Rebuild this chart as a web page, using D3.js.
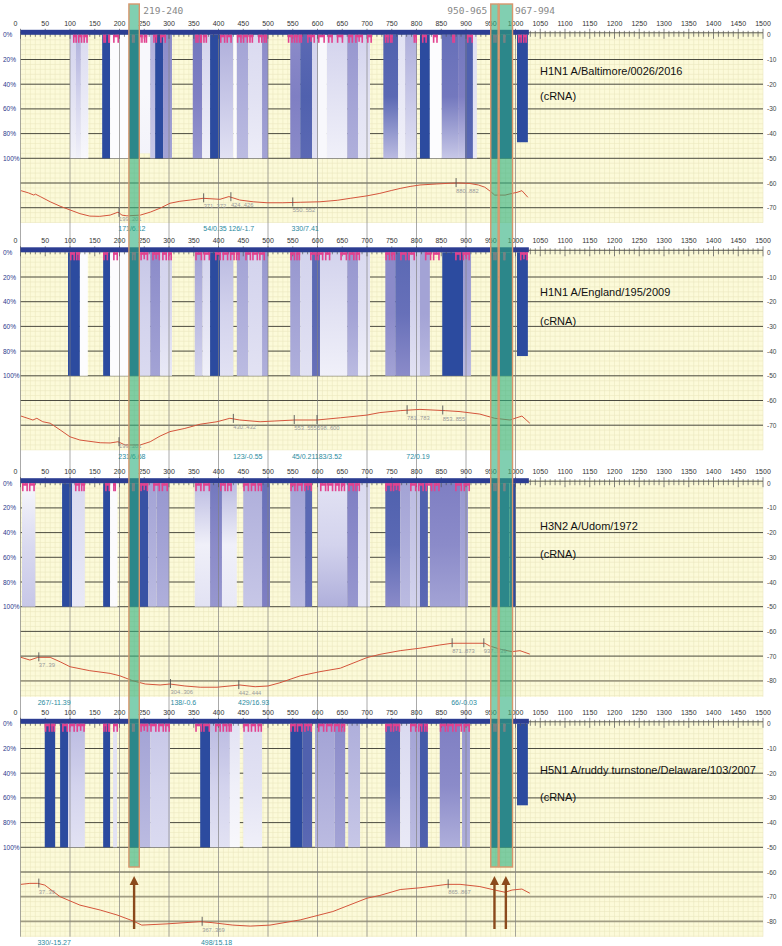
<!DOCTYPE html>
<html><head><meta charset="utf-8">
<script src="https://cdn.jsdelivr.net/npm/d3@7"></script>
<style>body{margin:0;background:#fff}svg{display:block}</style>
</head><body><svg id="c" width="782" height="946"></svg>
<script>
// ---------------- DATA ----------------
const axisTickLabels = [0,50,100,150,200,250,300,350,400,450,500,550,600,650,700,750,800,850,900,950,1000,1050,1100,1150,1200,1250,1300,1350,1400,1450,1500];
const pctValues = [0,20,40,60,80,100];
const pctLabels = ["0%","20%","40%","60%","80%","100%"];
const dgTicksP1 = [0,-10,-20,-30,-40,-50,-60,-70];
const dgTicksP2 = [0,-10,-20,-30,-40,-50,-60,-70];
const dgTicksP3 = [0,-10,-20,-30,-40,-50,-60,-70,-80];
const dgTicksP4 = [0,-10,-20,-30,-40,-50,-60,-70,-80];
const strainNames = ["H1N1 A/Baltimore/0026/2016","H1N1 A/England/195/2009","H3N2 A/Udom/1972","H5N1 A/ruddy turnstone/Delaware/103/2007"];
const strandLabel = "(cRNA)";
const highlightRanges = [[219,240],[950,965],[967,994]];
const highlightLabels = ["219-240","950-965","967-994"];
const arrowPositions = [229.5,957.5,980.5];
const seqLength = 1027;

// bars: [start, end, levelTop, levelMid, levelBottom, endPct]
const bars1 = [[100,112,.3,.2,.08,100],[112,122,.45,.3,.1,100],[122,137,.25,.15,.05,100],[165,181,1,1,1,100],[181,219,.02,.02,.02,100],[219,240,1,1,1,100],[240,262,.05,.05,.08,96],[262,272,.45,.4,.35,100],[272,288,1,1,1,100],[288,306,.6,.55,.5,100],[348,367,.7,.65,.55,100],[367,383,.3,.2,.1,100],[383,403,1,1,1,100],[403,430,.45,.35,.2,100],[430,437,.03,.03,.03,100],[437,460,.5,.45,.4,100],[460,488,.25,.2,.12,100],[488,500,.6,.55,.5,100],[545,565,.6,.65,.6,100],[565,589,.8,.85,.8,100],[589,601,.3,.25,.2,100],[601,619,.05,.05,.05,100],[619,660,.3,.2,.1,100],[660,682,.55,.5,.45,100],[682,706,.3,.2,.15,100],[733,763,.85,.8,.4,100],[763,777,.2,.15,.1,100],[777,801,.45,.35,.2,100],[807,827,1,1,1,100],[827,851,.02,.02,.02,100],[851,884,.75,.7,.35,100],[884,898,.7,.65,.35,100],[898,914,.85,.85,.8,100],[914,922,.2,.2,.15,100],[950,965,1,1,1,100],[967,994,1,1,1,100],[1003,1025,1,1,1,87]];
const bars2 = [[96,120,1,1,1,100],[120,136,.02,.02,.02,100],[167,181,1,1,1,100],[181,219,.02,.02,.02,100],[219,240,1,1,1,100],[240,262,.35,.3,.25,100],[262,282,.6,.55,.5,100],[282,306,.3,.25,.15,100],[352,368,.5,.4,.3,100],[368,383,.3,.2,.1,100],[383,403,1,1,1,100],[403,430,.4,.3,.2,100],[437,460,.5,.45,.4,100],[460,488,.3,.25,.2,100],[488,500,.55,.5,.45,100],[545,565,.55,.5,.45,100],[565,589,.3,.25,.2,100],[589,605,.8,.8,.75,100],[605,660,.3,.2,.1,100],[660,682,.55,.5,.4,100],[682,706,.25,.2,.1,100],[737,757,.6,.6,.5,100],[757,787,.8,.75,.6,100],[787,807,.35,.3,.2,100],[807,827,.5,.5,.4,100],[852,894,1,1,1,100],[894,910,.55,.5,.4,100],[950,965,1,1,1,100],[967,994,1,1,1,100],[1003,1025,1,1,1,84]];
const bars3 = [[3,30,.05,.25,.35,100],[84,104,1,1,1,100],[104,130,.25,.2,.15,100],[167,181,1,1,1,100],[181,196,.03,.03,.03,100],[219,240,1,1,1,100],[240,258,.95,.95,.95,100],[258,275,.5,.45,.4,100],[275,300,.55,.5,.45,100],[352,383,.4,.1,.2,100],[383,407,.7,.6,.55,100],[407,437,.4,.1,.15,100],[450,488,.45,.4,.35,100],[488,504,.75,.7,.65,100],[545,575,.5,.45,.4,100],[575,589,.8,.8,.75,100],[601,660,.2,.3,.45,100],[660,682,.65,.6,.55,100],[682,706,.25,.2,.15,100],[737,767,.85,.8,.6,100],[767,787,.5,.45,.4,100],[787,807,.4,.35,.3,100],[807,823,.85,.85,.8,100],[827,888,.65,.6,.5,100],[888,904,.55,.5,.45,100],[950,965,1,1,1,100],[967,988,1,1,1,100],[989,1001,1,1,1,100]];
const bars4 = [[49,70,1,1,1,100],[80,96,1,1,1,100],[96,130,.4,.3,.2,100],[167,181,1,1,1,100],[187,195,.2,.2,.2,100],[219,240,1,1,1,100],[240,262,.5,.45,.4,100],[262,302,.35,.3,.25,100],[363,383,1,1,1,100],[383,423,.4,.3,.2,100],[423,443,.2,.1,.05,100],[450,488,.25,.2,.1,100],[545,570,1,1,1,100],[570,589,.85,.85,.8,100],[595,635,.5,.45,.4,100],[635,656,.6,.55,.5,100],[662,686,.45,.4,.35,100],[737,767,.85,.8,.6,100],[767,787,.25,.2,.15,100],[787,807,.5,.45,.4,100],[807,823,.9,.9,.85,100],[847,888,.65,.6,.45,100],[892,908,.55,.5,.45,100],[950,965,1,1,1,100],[967,994,1,1,1,100],[1003,1025,1,1,1,66]];

// paired positions (pink marks): [start, end]
const pairs1 = [[106,114],[116,125],[127,136],[167,173],[177,181],[187,199],[225,231],[239,247],[249,256],[268,276],[282,294],[353,360],[362,367],[369,377],[403,414],[416,427],[437,447],[449,460],[462,470],[480,489],[491,498],[540,550],[552,560],[562,569],[579,595],[601,615],[621,631],[639,652],[662,672],[676,692],[700,710],[736,744],[746,752],[794,801],[811,821],[833,843],[872,878],[902,914],[955,962],[975,980],[1005,1013],[1015,1023]];
const pairs2 = [[100,110],[112,120],[167,177],[187,197],[225,233],[242,258],[266,282],[286,296],[298,306],[353,367],[370,383],[393,405],[408,420],[423,433],[435,443],[454,466],[468,480],[482,494],[545,555],[557,565],[585,598],[600,612],[615,626],[646,660],[663,675],[677,686],[737,747],[749,757],[767,780],[783,797],[817,830],[833,847],[878,890],[893,908],[955,962],[975,980],[1009,1025]];
const pairs3 = [[3,15],[17,29],[110,120],[122,130],[171,181],[187,193],[225,231],[242,258],[268,282],[285,298],[353,366],[369,383],[403,415],[417,427],[450,462],[465,476],[479,488],[545,556],[558,570],[573,589],[605,618],[620,632],[635,645],[647,656],[662,674],[676,686],[737,750],[752,767],[787,800],[803,815],[818,832],[835,847],[878,892],[895,908],[955,962],[975,980]];
const pairs4 = [[49,60],[62,70],[84,96],[98,110],[113,130],[167,175],[177,181],[187,197],[225,231],[242,258],[262,275],[278,290],[292,302],[353,367],[369,383],[393,405],[408,418],[420,427],[450,462],[465,476],[479,488],[545,556],[558,570],[573,589],[601,614],[617,630],[633,645],[647,656],[737,750],[752,767],[787,800],[803,812],[815,823],[847,860],[862,875],[878,892],[895,908],[955,962],[975,980]];

// free-energy profile: [position, dG]
const dg1 = [[1,-63.1],[16,-64.0],[27,-64.9],[30,-64.5],[40,-65.5],[60,-67.6],[80,-69.4],[100,-70.9],[120,-72.4],[140,-73.4],[160,-73.5],[181,-73.0],[197,-71.8],[205,-73.0],[215,-73.3],[242,-73.0],[262,-71.8],[282,-70.2],[302,-68.2],[322,-67.4],[343,-66.9],[369,-66.2],[403,-66.6],[421,-65.5],[443,-66.9],[470,-67.6],[498,-68.0],[530,-68.0],[565,-67.8],[605,-67.6],[640,-67.0],[666,-66.2],[700,-65.2],[726,-64.2],[750,-63.0],[767,-62.2],[787,-61.4],[807,-60.8],[840,-60.4],[868,-60.1],[885,-60.0],[908,-60.2],[925,-60.8],[938,-61.7],[950,-63.5],[958,-64.9],[979,-64.9],[993,-64.2],[1003,-63.8],[1013,-63.1],[1025,-65.8]];
const dg2 = [[1,-66.3],[25,-67.9],[33,-67.2],[45,-68.6],[60,-69.2],[80,-71.9],[100,-74.7],[120,-76.0],[161,-77.1],[181,-77.2],[197,-76.7],[211,-78.0],[242,-78.0],[262,-76.7],[282,-74.4],[302,-72.6],[332,-71.3],[363,-69.6],[397,-68.6],[423,-67.2],[443,-67.9],[484,-68.6],[514,-68.3],[554,-67.9],[599,-67.9],[646,-67.0],[700,-65.9],[726,-64.9],[767,-64.1],[807,-63.6],[858,-64.1],[888,-64.5],[928,-65.5],[958,-67.2],[989,-67.9],[999,-67.2],[1013,-66.3],[1029,-69.2]];
const dg3 = [[1,-70.5],[19,-71.6],[35,-70.5],[60,-70.5],[80,-72.3],[100,-74.3],[140,-75.9],[181,-77.0],[201,-78.0],[227,-80.0],[252,-81.3],[282,-81.7],[302,-81.3],[332,-82.1],[363,-82.6],[397,-82.6],[443,-81.7],[474,-82.4],[500,-82.1],[524,-80.8],[565,-78.0],[605,-76.3],[646,-74.9],[700,-70.6],[726,-69.3],[767,-67.8],[807,-66.8],[847,-65.5],[872,-64.8],[938,-64.8],[948,-65.9],[969,-67.2],[993,-68.2],[1009,-67.8],[1029,-69.2]];
const dg4 = [[1,-65.0],[19,-64.6],[35,-64.6],[49,-65.3],[80,-70.0],[120,-73.4],[161,-75.4],[195,-77.4],[227,-79.8],[245,-81.5],[296,-81.0],[363,-80.1],[387,-80.5],[429,-81.5],[464,-81.9],[504,-81.5],[565,-79.4],[631,-76.0],[700,-70.6],[726,-69.5],[767,-67.1],[807,-66.4],[862,-65.0],[888,-65.0],[928,-65.9],[958,-67.3],[979,-68.2],[993,-67.3],[1013,-66.9],[1029,-68.6]];

// marked positions on the profile: [position, label]
const marks1 = [[199,"199..201"],[370,"371..372"],[425,"424..426"],[550,"550..552"],[880,"880..882"]];
const marks2 = [[199,"199..201"],[430,"430..432"],[553,"553..555"],[599,"598..600"],[781,"781..783"],[853,"853..855"]];
const marks3 = [[37,"37..39"],[303,"304..306"],[441,"442..444"],[872,"871..873"],[936,"937..939"]];
const marks4 = [[37,"37..39"],[367,"367..369"],[864,"865..867"]];

// notes under each panel: [position, text]
const notes1 = [[225,"171/6.12"],[393,"54/0.35"],[446,"126/-1.7"],[575,"330/7.41"]];
const notes2 = [[225,"231/6.68"],[459,"123/-0.55"],[572,"45/0.21"],[622,"183/3.52"],[803,"72/0.19"]];
const notes3 = [[68,"267/-11.39"],[329,"138/-0.6"],[471,"429/16.93"],[896,"66/-0.03"]];
const notes4 = [[68,"330/-15.27"],[396,"498/15.18"]];

// ---------------- LAYOUT ----------------
const panels = [
  {name:strainNames[0], bars:bars1, pairs:pairs1, dg:dg1, marks:marks1, notes:notes1, ticks:dgTicksP1, top:34.8, bottom:222.7, titleY:[75,100], grayLines:[]},
  {name:strainNames[1], bars:bars2, pairs:pairs2, dg:dg2, marks:marks2, notes:notes2, ticks:dgTicksP2, top:252.3, bottom:450, titleY:[296,325], grayLines:[]},
  {name:strainNames[2], bars:bars3, pairs:pairs3, dg:dg3, marks:marks3, notes:notes3, ticks:dgTicksP3, top:483.2, bottom:696.7, titleY:[530,558], grayLines:[-80]},
  {name:strainNames[3], bars:bars4, pairs:pairs4, dg:dg4, marks:marks4, notes:notes4, ticks:dgTicksP4, top:723.8, bottom:936.7, titleY:[774,801], grayLines:[-70,-80]}
];

const svg = d3.select("#c");
const defs = svg.append("defs");
const x = d3.scaleLinear().domain([0,1500]).range([20.5,763]);
const barColor = d3.scaleLinear().domain([0,0.3,0.65,1]).range(["#ffffff","#d3d3ed","#7f7fc3","#2c4b9f"]);
const FONT = "Liberation Sans, Arial, sans-serif";

panels.forEach((p,pi)=>{
  const y = d3.scaleLinear().domain([0,-50]).range([p.top, p.top+123.5]);
  const pct = d3.scaleLinear().domain([0,100]).range([p.top, p.top+123.5]);
  const yMin = y.invert(p.bottom);
  const g = svg.append("g");
  const nextTop = pi<3 ? panels[pi+1].top : p.bottom;

  // background
  g.append("rect").attr("x",x(0)).attr("y",p.top-3).attr("width",x(1500)-x(0)).attr("height",p.bottom-p.top+3).attr("fill","#fcfad9");
  // fine grid
  const fine = g.append("g").attr("stroke","#ebe7c0").attr("stroke-width",0.6);
  d3.range(0,1501,10).forEach(u=>fine.append("line").attr("x1",x(u)).attr("x2",x(u)).attr("y1",p.top).attr("y2",p.bottom));
  d3.range(0,yMin,-2).forEach(v=>fine.append("line").attr("x1",x(0)).attr("x2",x(1500)).attr("y1",y(v)).attr("y2",y(v)));
  // major horizontal lines
  p.ticks.filter(t=>t<0).forEach(t=>{
    const gray = p.grayLines.includes(t);
    g.append("line").attr("x1",x(0)).attr("x2",x(1500)).attr("y1",y(t)).attr("y2",y(t))
      .attr("stroke",gray?"#a19d84":"#3a3a32").attr("stroke-width",gray?1.8:0.9);
  });

  // bars
  p.bars.forEach((b,bi)=>{
    const id = `gr${pi}_${bi}`;
    const lg = defs.append("linearGradient").attr("id",id).attr("x1",0).attr("y1",0).attr("x2",0).attr("y2",1);
    lg.append("stop").attr("offset",0).attr("stop-color",barColor(b[2]));
    lg.append("stop").attr("offset",0.5).attr("stop-color",barColor(b[3]));
    lg.append("stop").attr("offset",1).attr("stop-color",barColor(b[4]));
    g.append("rect").attr("x",x(b[0])).attr("y",pct(0)).attr("width",x(b[1])-x(b[0])).attr("height",pct(b[5])-pct(0)).attr("fill",`url(#${id})`);
  });

  // vertical 100-unit grid lines
  d3.range(0,1001,100).forEach(u=>{
    g.append("line").attr("x1",x(u)).attr("x2",x(u)).attr("y1",p.top).attr("y2",nextTop)
      .attr("stroke","#808080").attr("stroke-opacity",0.75).attr("stroke-width",0.9);
  });

  // top axis
  const ax = g.append("g");
  ax.append("line").attr("x1",x(0)).attr("x2",x(1500)).attr("y1",p.top-2).attr("y2",p.top-2).attr("stroke","#333").attr("stroke-width",0.8);
  d3.range(0,1501,10).forEach(u=>{
    const major = u%50===0;
    ax.append("line").attr("x1",x(u)).attr("x2",x(u)).attr("y1",p.top-(major?6:4)).attr("y2",p.top+(major?4:2))
      .attr("stroke","#555").attr("stroke-width",0.7);
  });
  axisTickLabels.forEach(u=>{
    ax.append("text").attr("x",x(u)-(u===0?5:0)).attr("y",p.top-9).attr("text-anchor","middle")
      .attr("font-family",FONT).attr("font-size",7).attr("fill","#333").text(u);
  });
  // sequence bar
  g.append("rect").attr("x",x(0)).attr("y",p.top-5).attr("width",x(seqLength)-x(0)).attr("height",5).attr("fill","#2c3d92");

  // pink paired marks
  const pk = g.append("g").attr("fill","#e2418f");
  p.pairs.forEach(r=>{
    const x0=x(r[0]), x1=x(r[1]);
    pk.append("rect").attr("x",x0).attr("y",p.top).attr("width",x1-x0).attr("height",2.5);
    pk.append("rect").attr("x",x0).attr("y",p.top).attr("width",1.6).attr("height",8);
    pk.append("rect").attr("x",x1-1.6).attr("y",p.top).attr("width",1.6).attr("height",8);
    if (x1-x0>7) pk.append("rect").attr("x",(x0+x1)/2-0.8).attr("y",p.top).attr("width",1.6).attr("height",7);
  });

  // free energy line
  const line = d3.line().x(d=>x(d[0])).y(d=>y(d[1]));
  g.append("path").datum(p.dg).attr("d",line).attr("fill","none").attr("stroke","#d4553c").attr("stroke-width",1);

  // marks
  const interp = u=>{
    const i = d3.bisector(d=>d[0]).left(p.dg,u);
    if(i<=0) return p.dg[0][1];
    if(i>=p.dg.length) return p.dg[p.dg.length-1][1];
    const a=p.dg[i-1], b=p.dg[i], t=(u-a[0])/(b[0]-a[0]);
    return a[1]+t*(b[1]-a[1]);
  };
  p.marks.forEach(m=>{
    const yy = y(interp(m[0]));
    g.append("line").attr("x1",x(m[0])).attr("x2",x(m[0])).attr("y1",yy-5).attr("y2",yy+4).attr("stroke","#555").attr("stroke-width",0.9);
    g.append("text").attr("x",x(m[0])).attr("y",Math.min(yy+10,p.bottom-2)).attr("font-family",FONT).attr("font-size",5.8).attr("fill","#9a9a9a").text(m[1]);
  });

  // notes
  p.notes.forEach(n=>{
    g.append("text").attr("x",x(n[0])).attr("y",p.bottom+8.5).attr("text-anchor","middle").attr("font-family",FONT)
      .attr("font-size",7).attr("fill","#2a8ba0").text(n[1]);
  });

  // left % labels
  pctValues.forEach((v,i)=>{
    g.append("text").attr("x",3).attr("y",pct(v)+2.5).attr("font-family",FONT).attr("font-size",6.5).attr("fill","#2d3a8c").text(pctLabels[i]);
  });
  // right dG labels
  p.ticks.forEach(t=>{
    g.append("text").attr("x",767).attr("y",y(t)+2.5).attr("font-family",FONT).attr("font-size",6.5).attr("fill","#444").text(t);
  });

  // title
  g.append("text").attr("x",540).attr("y",p.titleY[0]).attr("font-family",FONT).attr("font-size",11).attr("fill","#111").text(p.name);
  g.append("text").attr("x",540).attr("y",p.titleY[1]).attr("font-family",FONT).attr("font-size",11).attr("fill","#111").text(strandLabel);
});

// highlights
const hl = svg.append("g");
highlightRanges.forEach(r=>{
  hl.append("rect").attr("x",x(r[0])).attr("y",4).attr("width",x(r[1])-x(r[0])).attr("height",863)
    .attr("fill","rgb(45,175,125)").attr("fill-opacity",0.6).attr("stroke","#d8966c").attr("stroke-width",1.4);
});
const labelX = [[x(240)+4,"start"],[x(950)-3.5,"end"],[x(994)+2.5,"start"]];
highlightLabels.forEach((t,i)=>{
  hl.append("text").attr("x",labelX[i][0]).attr("y",14).attr("text-anchor",labelX[i][1])
    .attr("font-family","DejaVu Sans Mono, monospace").attr("font-size",9.5).attr("fill","#888").text(t);
});

// arrows
arrowPositions.forEach(u=>{
  const xx = x(u);
  hl.append("line").attr("x1",xx).attr("x2",xx).attr("y1",929).attr("y2",883).attr("stroke","#8b4a1c").attr("stroke-width",2.4);
  hl.append("path").attr("d",`M${xx-4.5},885 L${xx+4.5},885 L${xx},876 Z`).attr("fill","#8b4a1c");
});
</script></body></html>
